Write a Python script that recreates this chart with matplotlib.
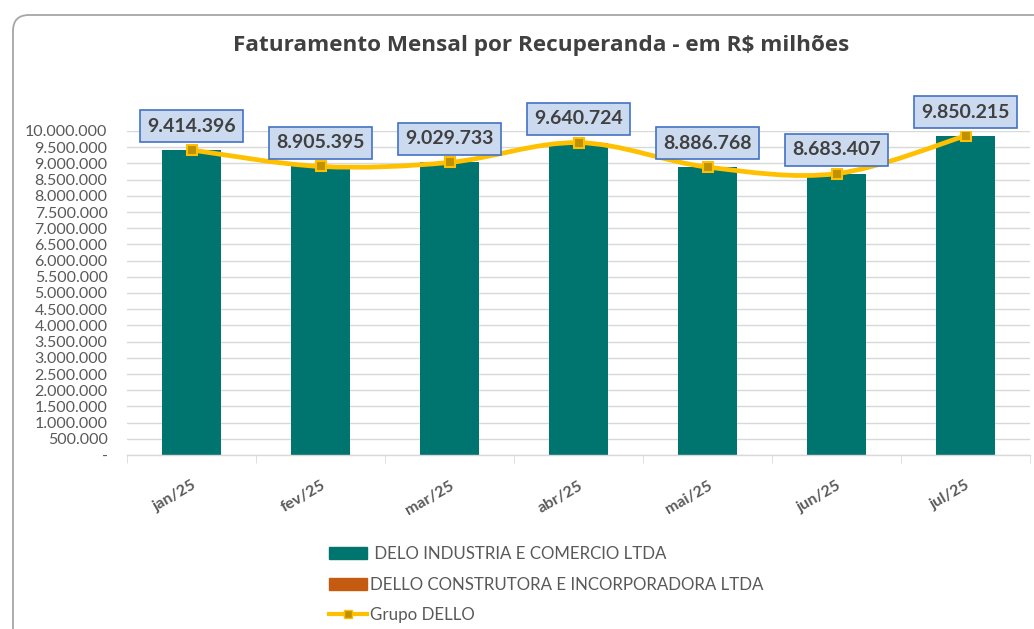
import numpy as np
import matplotlib.pyplot as plt
from matplotlib.path import Path
from matplotlib.patches import PathPatch, FancyBboxPatch, Patch
from matplotlib.lines import Line2D
from matplotlib.ticker import FuncFormatter, MultipleLocator
import matplotlib.transforms as mtransforms

plt.rcParams['font.family'] = ['Lato', 'DejaVu Sans']

# dados
meses = ['jan/25', 'fev/25', 'mar/25', 'abr/25', 'mai/25', 'jun/25', 'jul/25']
delo_industria = [9414396, 8905395, 9029733, 9640724, 8886768, 8683407, 9850215]
dello_construtora = [0, 0, 0, 0, 0, 0, 0]
grupo_dello = [9414396, 8905395, 9029733, 9640724, 8886768, 8683407, 9850215]

cor_barra = '#00746E'
cor_constr = '#C55A11'
cor_linha = '#FFC000'
cor_texto = '#595959'


def fmt_br(v, pos=None):
    if v == 0:
        return '-'
    return '{:,.0f}'.format(v).replace(',', '.')


fig = plt.figure(figsize=(10.34, 6.29), dpi=100)

# moldura arredondada do grafico
moldura = FancyBboxPatch((13, -30), 1060, 644,
                         boxstyle='round,pad=0,rounding_size=16',
                         transform=mtransforms.IdentityTransform(),
                         facecolor='white', edgecolor='#A6A6A6', linewidth=1.3, zorder=-5)
fig.patches.append(moldura)

ax = fig.add_axes([127 / 1034, 1 - 455 / 629, (1030 - 127) / 1034, (455 - 131) / 629])
ax.set_facecolor('none')

x = np.arange(len(meses))
ax.bar(x, delo_industria, width=0.46, color=cor_barra, zorder=2)
ax.bar(x, dello_construtora, width=0.46, bottom=delo_industria, color=cor_constr, zorder=2)

# linha suavizada (bezier estilo Excel)
pts = np.column_stack([x, grupo_dello]).astype(float)
n = len(pts)
verts = [pts[0]]
codes = [Path.MOVETO]
for i in range(n - 1):
    p0 = pts[i - 1] if i > 0 else pts[i]
    p1 = pts[i]
    p2 = pts[i + 1]
    p3 = pts[i + 2] if i + 2 < n else pts[i + 1]
    c1 = p1 + (p2 - p0) / 6
    c2 = p2 - (p3 - p1) / 6
    verts += [c1, c2, p2]
    codes += [Path.CURVE4] * 3
ax.add_patch(PathPatch(Path(verts, codes), facecolor='none', edgecolor=cor_linha,
                       lw=3.4, zorder=3, capstyle='round'))
ax.plot(x, grupo_dello, ls='none', marker='s', ms=7, mfc='#BF9000', mec=cor_linha,
        mew=1.5, zorder=4)

for xi, v in zip(x, grupo_dello):
    ax.annotate(fmt_br(v), (xi, v), xytext=(0, 11), textcoords='offset points',
                ha='center', va='bottom', fontsize=14, fontweight='bold',
                color='#404040', zorder=5,
                bbox=dict(boxstyle='square,pad=0.38', fc='#CCDAF0', ec='#4472C4', lw=1.2))

ax.set_xlim(-0.5, len(meses) - 0.5)
ax.set_ylim(0, 10000000)
ax.yaxis.set_major_locator(MultipleLocator(500000))
ax.yaxis.set_major_formatter(FuncFormatter(fmt_br))
ax.grid(axis='y', color='#D9D9D9', lw=1, zorder=0)
for s in ['top', 'right', 'left']:
    ax.spines[s].set_visible(False)
ax.spines['bottom'].set_color('#D9D9D9')
ax.spines['bottom'].set_linewidth(1)

ax.set_xticks(x)
ax.set_xticklabels(meses, rotation=30, ha='right', va='top', rotation_mode='anchor',
                   fontsize=11.5, fontweight='bold', color=cor_texto)
ax.tick_params(axis='x', length=0, pad=17)
ax.set_xticks(np.arange(len(meses) + 1) - 0.5, minor=True)
ax.tick_params(axis='x', which='minor', length=6, color='#D9D9D9')
ax.tick_params(axis='y', length=0, pad=14, labelsize=11.5, labelcolor=cor_texto)

fig.text(541 / 1034, 1 - 45 / 629, r'Faturamento Mensal por Recuperanda - em R\$ milhões',
         ha='center', va='center', fontsize=16.2, fontweight='bold', color='#404040',
         family=['Open Sans', 'DejaVu Sans'])

handles = [Patch(facecolor=cor_barra, edgecolor=cor_barra),
           Patch(facecolor=cor_constr, edgecolor=cor_constr),
           Line2D([], [], color=cor_linha, lw=3, marker='s', ms=6, mfc='#BF9000', mec=cor_linha)]
labels = [' DELO INDUSTRIA E COMERCIO LTDA', 'DELLO CONSTRUTORA E INCORPORADORA LTDA', 'Grupo DELLO']
fig.legend(handles, labels, loc='upper left', bbox_to_anchor=(314 / 1034, 1 - 531 / 629),
           frameon=False, fontsize=12.2, labelcolor=cor_texto, handlelength=2.2,
           handleheight=0.7, labelspacing=0.85, handletextpad=0.2)

fig.savefig('out.png', dpi=100)
